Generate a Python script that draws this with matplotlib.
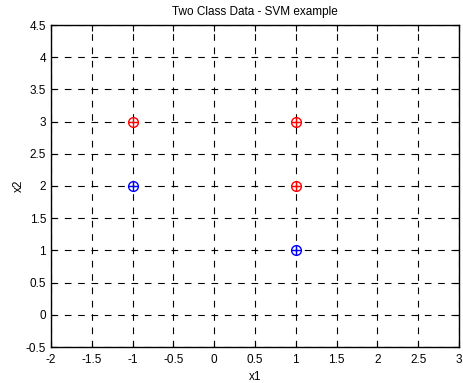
import matplotlib
matplotlib.use("Agg")
import matplotlib.pyplot as plt

red_x = [-1, 1, 1]
red_y = [3, 3, 2]
blue_x = [-1, 1]
blue_y = [2, 1]
xticks = [-2, -1.5, -1, -0.5, 0, 0.5, 1, 1.5, 2, 2.5, 3]
yticks = [-0.5, 0, 0.5, 1, 1.5, 2, 2.5, 3, 3.5, 4, 4.5]

plt.rcParams['font.family'] = ['Liberation Sans', 'DejaVu Sans']
fig = plt.figure(figsize=(4.64, 3.83), dpi=100)
ax = fig.add_axes([51/464, 1 - 347/383, (459-51)/464, (347-25)/383])

for xs, ys, c in [(red_x, red_y, 'red'), (blue_x, blue_y, 'blue')]:
    ax.plot(xs, ys, 'o', mfc='none', mec=c, ms=7, mew=1, zorder=3)
    ax.plot(xs, ys, '+', color=c, ms=7, mew=1, zorder=3)

ax.set_xlim(-2, 3)
ax.set_ylim(-0.5, 4.5)
ax.set_xticks(xticks)
ax.set_yticks(yticks)
ax.set_xticklabels([f"{t:g}" for t in xticks])
ax.set_yticklabels([f"{t:g}" for t in yticks])
ax.grid(True, color='black', linestyle=(0, (6, 6)), linewidth=0.8)
ax.tick_params(direction='in', labelsize=8.5, length=4, top=True, right=True)
ax.tick_params(axis='x', pad=5)
for s in ax.spines.values():
    s.set_linewidth(1.0)
ax.set_title("Two Class Data - SVM example", fontsize=8.5, pad=7)
ax.set_xlabel("x1", fontsize=8.5, labelpad=4)
ax.set_ylabel("x2", fontsize=8.5, labelpad=1)
fig.savefig("out.png", dpi=100)
